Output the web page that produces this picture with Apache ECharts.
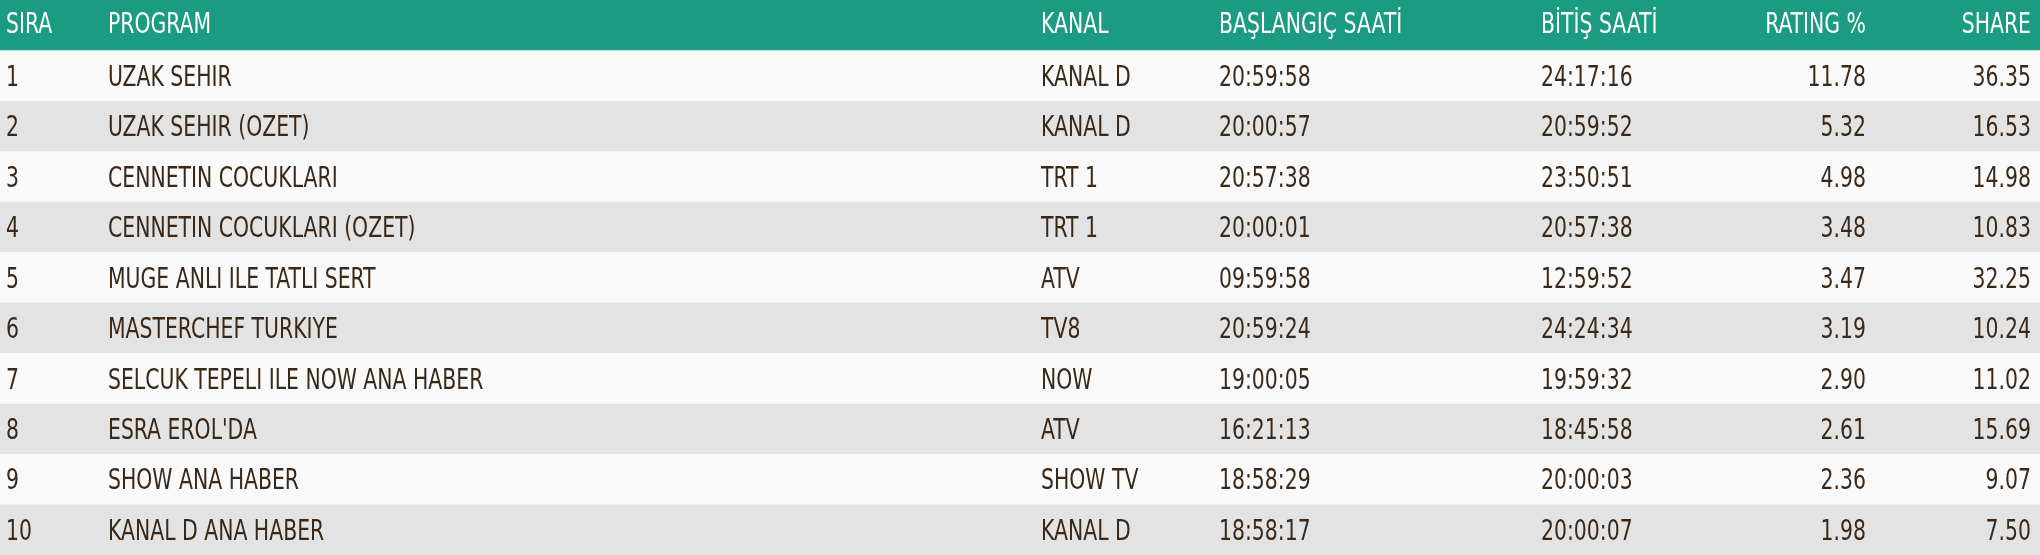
<!DOCTYPE html>
<html><head><meta charset="utf-8">
<script src="https://cdn.jsdelivr.net/npm/echarts@6/dist/echarts.min.js"></script>
<style>html,body{margin:0;padding:0;background:#fff}#c{width:2040px;height:555px}</style>
</head><body><div id="c"></div>
<script>
const headers = ['SIRA','PROGRAM','KANAL','BAŞLANGIÇ SAATİ','BİTİŞ SAATİ','RATING %','SHARE'];
const sira = ['1','2','3','4','5','6','7','8','9','10'];
const programs = ['UZAK SEHIR','UZAK SEHIR (OZET)','CENNETIN COCUKLARI','CENNETIN COCUKLARI (OZET)','MUGE ANLI ILE TATLI SERT','MASTERCHEF TURKIYE','SELCUK TEPELI ILE NOW ANA HABER',"ESRA EROL'DA",'SHOW ANA HABER','KANAL D ANA HABER'];
const kanal = ['KANAL D','KANAL D','TRT 1','TRT 1','ATV','TV8','NOW','ATV','SHOW TV','KANAL D'];
const baslangic = ['20:59:58','20:00:57','20:57:38','20:00:01','09:59:58','20:59:24','19:00:05','16:21:13','18:58:29','18:58:17'];
const bitis = ['24:17:16','20:59:52','23:50:51','20:57:38','12:59:52','24:24:34','19:59:32','18:45:58','20:00:03','20:00:07'];
const rating = ['11.78','5.32','4.98','3.48','3.47','3.19','2.90','2.61','2.36','1.98'];
const share = ['36.35','16.53','14.98','10.83','32.25','10.24','11.02','15.69','9.07','7.50'];

const colX = [6,108,1041,1219,1541,1866,2031];
const colAlign = ['left','left','left','left','left','right','right'];
const W = 2040;
const FONT = '"DejaVu Sans Condensed","DejaVu Sans",sans-serif';

const rowsCat = ['h'].concat(sira);
const cols = [sira, programs, kanal, baslangic, bitis, rating, share];
const cells = [], texts = [];
headers.forEach((h,c)=>{cells.push([c,0]);texts.push(h);});
for (let r=0;r<sira.length;r++) for (let c=0;c<cols.length;c++){cells.push([c,r+1]);texts.push(cols[c][r]);}

const bandColors = rowsCat.map((_,i)=> i===0 ? '#1a9b82' : (i%2===1 ? '#f9f9f9' : '#e3e3e3'));

const chart = echarts.init(document.getElementById('c'));
chart.setOption({
  animation:false,
  grid:{left:0,right:0,top:0,bottom:0},
  xAxis:{type:'value',min:0,max:W,show:false},
  yAxis:{type:'category',data:rowsCat,inverse:true,show:false},
  series:[
    {type:'bar',barWidth:'100%',barCategoryGap:0,silent:true,z:1,
     data:rowsCat.map((_,i)=>({value:W,itemStyle:{color:bandColors[i]}}))},
    {type:'custom',data:cells,silent:true,z:5,clip:false,
     renderItem:function(params,api){
       const c=api.value(0), r=api.value(1);
       const p=api.coord([colX[c], r]);
       return {type:'text',x:p[0],y:p[1]+(r===0?1:3),scaleX:0.84,scaleY:1.02,style:{text:texts[params.dataIndex],
         align:colAlign[c],verticalAlign:'middle',
         fontSize:27,fontFamily:FONT,fill:r===0?'#ffffff':'#3a2818'}};
     }}
  ]
});
</script></body></html>
